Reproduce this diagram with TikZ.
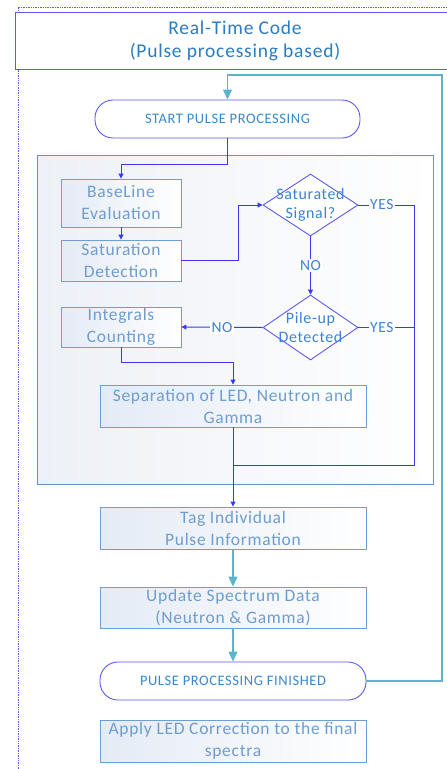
\documentclass[tikz,border=0pt]{standalone}
\usepackage{fontspec}
\setmainfont{Carlito}[LetterSpace=4]
\usetikzlibrary{shapes.geometric,arrows.meta}
\definecolor{framec}{HTML}{5A5AF0}
\definecolor{linec}{HTML}{3838F5}
\definecolor{tealc}{HTML}{5BB4CC}
\definecolor{titletxt}{HTML}{2B7CC0}
\definecolor{boxtxt}{HTML}{6E9DCE}
\definecolor{boxedge}{HTML}{6E9ED3}
\definecolor{boxfill}{HTML}{E4EBF5}
\definecolor{paneledge}{HTML}{6A90C4}
\definecolor{panelfill}{HTML}{EDF0F6}
\definecolor{pilltxt}{HTML}{3A88CC}
\definecolor{labtxt}{HTML}{3C82D4}
\tikzset{
  procbox/.style={draw=boxedge, line width=0.9pt, left color=boxfill, right color=white,
    text=boxtxt, font=\fontsize{17.5}{22}\selectfont, align=center, inner sep=0pt},
  pill/.style={draw=framec, line width=0.9pt, fill=white, rounded corners=18pt,
    text=pilltxt, font=\fontsize{14.5}{17}\selectfont, inner sep=0pt},
  decision/.style={diamond, draw=framec, line width=0.9pt, fill=white, inner sep=0pt},
  dectext/.style={text=labtxt, font=\fontsize{16}{19.5}\selectfont, align=center},
  lab/.style={text=labtxt, font=\fontsize{15.5}{18}\selectfont, inner sep=1.5pt},
  conn/.style={draw=linec, line width=1pt},
  bluearrow/.style={conn, -{Triangle[length=5pt,width=5pt]}},
  tealarrow/.style={draw=tealc, line width=1.2pt, -{Triangle[length=10pt,width=9pt]}},
}
\begin{document}
\begin{tikzpicture}[x=1pt,y=-1pt]
\useasboundingbox (0,0) rectangle (447,769);
% outer dotted frame
\draw[framec, densely dotted, line width=0.7pt] (18,769) -- (18,7) -- (447,7);
% title
\node[draw=framec, line width=0.9pt, fill=white, minimum width=440pt, minimum height=57pt,
  inner sep=0pt, text=titletxt, font=\fontsize{19.5}{23}\selectfont, align=center]
  (title) at (235,40.5) {Real-Time Code\\(Pulse processing based)};
% inner panel
\node[draw=paneledge, line width=0.9pt, left color=panelfill, right color=white,
  minimum width=396pt, minimum height=329pt, inner sep=0pt] (panel) at (235,319.5) {};
% nodes
\node[pill, minimum width=265pt, minimum height=38pt] (start) at (227.5,119) {START PULSE PROCESSING};
\node[procbox, minimum width=120pt, minimum height=48pt] (base) at (121,203) {BaseLine\\Evaluation};
\node[procbox, minimum width=120pt, minimum height=41pt] (sat) at (121,260.5) {Saturation\\Detection};
\node[procbox, minimum width=120pt, minimum height=40pt] (integ) at (121,327) {Integrals\\Counting};
\node[decision, minimum width=95pt, minimum height=62pt] (satd) at (310.5,205) {};
\node[dectext] (satdt) at (satd.center) {Saturated\\Signal?};
\node[decision, minimum width=95pt, minimum height=65pt] (pile) at (310.5,327.5) {};
\node[dectext] (pilet) at (pile.center) {Pile-up\\Detected};
\node[procbox, minimum width=266pt, minimum height=42pt] (sep) at (233,406) {Separation of LED, Neutron and\\Gamma};
\node[procbox, minimum width=266pt, minimum height=42pt] (tag) at (233,528) {Tag Individual\\Pulse Information};
\node[procbox, minimum width=266pt, minimum height=41pt] (upd) at (233,607.5) {Update Spectrum Data\\(Neutron \& Gamma)};
\node[pill, minimum width=266pt, minimum height=38pt] (fin) at (233,681) {PULSE PROCESSING FINISHED};
\node[procbox, minimum width=266pt, minimum height=42pt] (apply) at (233,741) {Apply LED Correction to the final\\spectra};
% helper coordinates
\coordinate (loopc) at (442,75);
\coordinate (j1) at (227.5,164);
\coordinate (j2) at (238,260.5);
\coordinate (r1) at (414,205);
\coordinate (r2) at (414,327.5);
\coordinate (r3) at (414,465);
\coordinate (m1) at (233,465);
\coordinate (j3) at (121,362);
% connectors
\draw[tealarrow] (fin.east) -| (loopc) -| (start.north);
\draw[bluearrow] (start.south) -- (j1) -| (base.north);
\draw[bluearrow] (base.south) -- (sat.north);
\draw[bluearrow] (sat.east) -- (j2) |- (satd.west);
\draw[bluearrow] (satd.south) -- node[lab, fill=white] (no1) {NO} (pile.north);
\draw[conn] (satd.east) -- node[lab, fill=white, pos=0.42] (yes1) {YES} (r1) -- (r3) -- (m1);
\draw[conn] (pile.east) -- node[lab, fill=white, pos=0.42] (yes2) {YES} (r2);
\draw[bluearrow] (pile.west) -- node[lab, fill=white] (no2) {NO} (integ.east);
\draw[bluearrow] (integ.south) -- (j3) -| (sep.north);
\draw[bluearrow] (sep.south) -- (tag.north);
\draw[tealarrow] (tag.south) -- (upd.north);
\draw[tealarrow] (upd.south) -- (fin.north);
\end{tikzpicture}
\end{document}
